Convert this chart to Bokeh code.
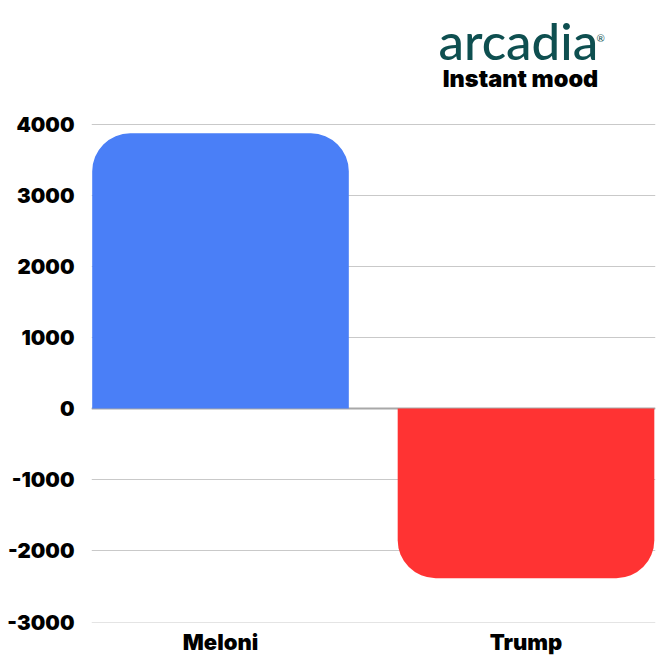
from bokeh.plotting import figure
from bokeh.models import Range1d, Span, Label, FixedTicker, NumeralTickFormatter
from bokeh.embed import file_html
from bokeh.resources import INLINE

categories = ["Meloni", "Trump"]
values_pos = [3870, 0]
values_neg = [0, -2385]
tick_values = [-3000, -2000, -1000, 0, 1000, 2000, 3000, 4000]
brand = "arcadia"
subtitle = "Instant mood"

FONT = "'Inter Black', 'Lato Black', Inter"
x_pos = list(range(len(categories)))

p = figure(
    width=661, height=664, output_backend="svg", toolbar_location=None,
    x_range=Range1d(-0.4223, 1.4239),
    y_range=Range1d(-3007, 5736),
    frame_width=564, frame_height=622,
    min_border_left=91, min_border_right=6, min_border_top=0, min_border_bottom=42,
    outline_line_color=None, background_fill_color="white", border_fill_color="white",
)

p.xgrid.visible = False
p.ygrid.grid_line_color = "#c9c9c9"
p.ygrid.grid_line_width = 1
p.ygrid.ticker = FixedTicker(ticks=tick_values)

p.add_layout(Span(location=0, dimension="width", line_color="#a8a8a8", line_width=2, level="underlay"))

p.vbar(x=[x_pos[0]], top=[values_pos[0]], bottom=0, width=0.84,
       fill_color="#4a7ff7", line_color=None, border_radius=(38, 38, 0, 0))
p.vbar(x=[x_pos[1]], top=0, bottom=[values_neg[1]], width=0.84,
       fill_color="#ff3333", line_color=None, border_radius=(0, 0, 38, 38))

p.xaxis.ticker = FixedTicker(ticks=x_pos)
p.xaxis.major_label_overrides = dict(zip(x_pos, categories))
p.yaxis.ticker = FixedTicker(ticks=tick_values)
p.yaxis.formatter = NumeralTickFormatter(format="0")
for ax in (p.xaxis[0], p.yaxis[0]):
    ax.axis_line_color = None
    ax.major_tick_line_color = None
    ax.minor_tick_line_color = None
    ax.major_label_text_font = FONT
    ax.major_label_text_font_style = "bold"
    ax.major_label_text_font_size = "20.5px"
    ax.major_label_text_color = "#000000"
p.xaxis.major_label_text_font_size = "22px"
p.yaxis.major_label_standoff = 11
p.xaxis.major_label_standoff = 0

p.add_layout(Label(x=347, y=582, x_units="screen", y_units="screen", text=brand,
                   text_font="'Lato Medium', Lato", text_font_size="51px", text_color="#0e4f50",
                   text_align="left", text_baseline="alphabetic"))
p.add_layout(Label(x=505, y=579, x_units="screen", y_units="screen", text="®",
                   text_font="Lato", text_font_size="10px", text_color="#0e4f50"))
p.add_layout(Label(x=429, y=544, x_units="screen", y_units="screen", text=subtitle,
                   text_font=FONT, text_font_style="bold", text_font_size="23.5px", text_color="#000000",
                   text_align="center", text_baseline="middle"))

open("out.html", "w").write(file_html(p, INLINE))
